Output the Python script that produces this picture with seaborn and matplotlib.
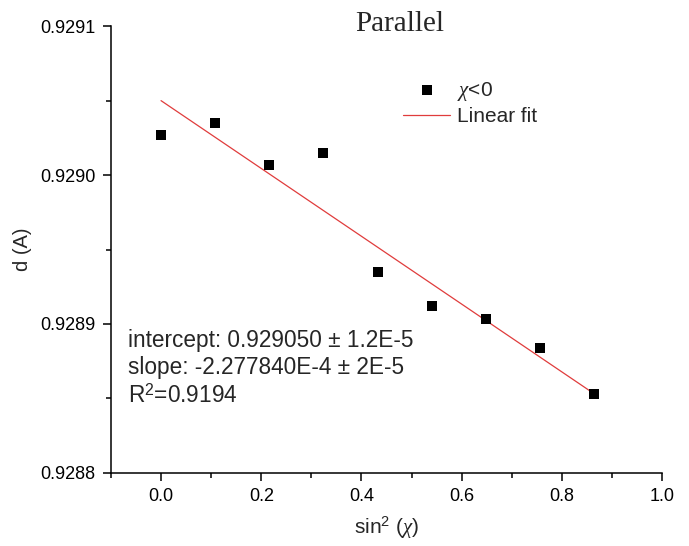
import numpy as np
import pandas as pd
import matplotlib
matplotlib.use('Agg')
import matplotlib.pyplot as plt
import seaborn as sns
from matplotlib.ticker import MultipleLocator, FormatStrFormatter

# 데이터
sin2_chi = [0.0, 0.108, 0.216, 0.324, 0.433, 0.541, 0.649, 0.757, 0.865]
d_spacing = [0.929027, 0.929035, 0.929007, 0.929015, 0.928935,
             0.928912, 0.928903, 0.928884, 0.928853]
fit_intercept = 0.929050
fit_slope = -2.277840E-4
fit_text = ['intercept: 0.929050 \u00b1 1.2E-5',
            'slope: -2.277840E-4 \u00b1 2E-5',
            'R$^2$=0.9194']

df = pd.DataFrame({'x': sin2_chi, 'd': d_spacing})
fit_x = np.array([min(sin2_chi), max(sin2_chi)])
fit_df = pd.DataFrame({'x': fit_x, 'd': fit_intercept + fit_slope * fit_x})

sns.set_theme(style='ticks')
plt.rcParams['font.family'] = ['Liberation Sans', 'DejaVu Sans']
plt.rcParams['mathtext.fontset'] = 'custom'
plt.rcParams['mathtext.rm'] = 'Liberation Sans'
plt.rcParams['mathtext.it'] = 'Liberation Serif:italic'

fig = plt.figure(figsize=(6.89, 5.46), dpi=100)
ax = fig.add_axes([0.161, 0.134, 0.800, 0.818])

sns.scatterplot(data=df, x='x', y='d', marker='s', s=55, color='black',
                linewidth=0, ax=ax, label=r'$\chi$<0', zorder=3)
sns.lineplot(data=fit_df, x='x', y='d', color='#e03c3c', linewidth=0.9,
             ax=ax, label='Linear fit', zorder=2)

ax.set_xlim(-0.1, 1.0)
ax.set_ylim(0.9288, 0.9291)
ax.xaxis.set_major_locator(MultipleLocator(0.2))
ax.xaxis.set_minor_locator(MultipleLocator(0.1))
ax.yaxis.set_major_locator(MultipleLocator(0.0001))
ax.yaxis.set_minor_locator(MultipleLocator(0.00005))
ax.yaxis.set_major_formatter(FormatStrFormatter('%.4f'))
ax.xaxis.set_major_formatter(FormatStrFormatter('%.1f'))

for side in ['top', 'right']:
    ax.spines[side].set_visible(False)
for side in ['left', 'bottom']:
    ax.spines[side].set_linewidth(1.1)
    ax.spines[side].set_color('black')
ax.tick_params(which='major', direction='out', length=6, width=1.1,
               labelsize=13, pad=5, colors='black')
ax.tick_params(which='minor', direction='out', length=3.5, width=1.1, colors='black')

ax.set_xlabel(r'sin$^2$ ($\chi$)', fontsize=15, labelpad=7)
ax.set_ylabel('d (A)', fontsize=14.5, labelpad=6)

# 제목 (약간 오른쪽)
ax.text(0.523, 1.005, 'Parallel', transform=ax.transAxes, fontsize=21,
        family='Liberation Serif', ha='center', va='center')

leg = ax.legend(loc='upper left', bbox_to_anchor=(0.496, 0.922), frameon=False,
                fontsize=15, handlelength=2.25, handletextpad=0.33,
                labelspacing=0.2)

y_pos = [0.297, 0.236, 0.172]
for txt, yy in zip(fit_text, y_pos):
    ax.text(0.031, yy, txt, transform=ax.transAxes, fontsize=16.3,
            va='center', ha='left')

fig.savefig('out.png', dpi=100)
